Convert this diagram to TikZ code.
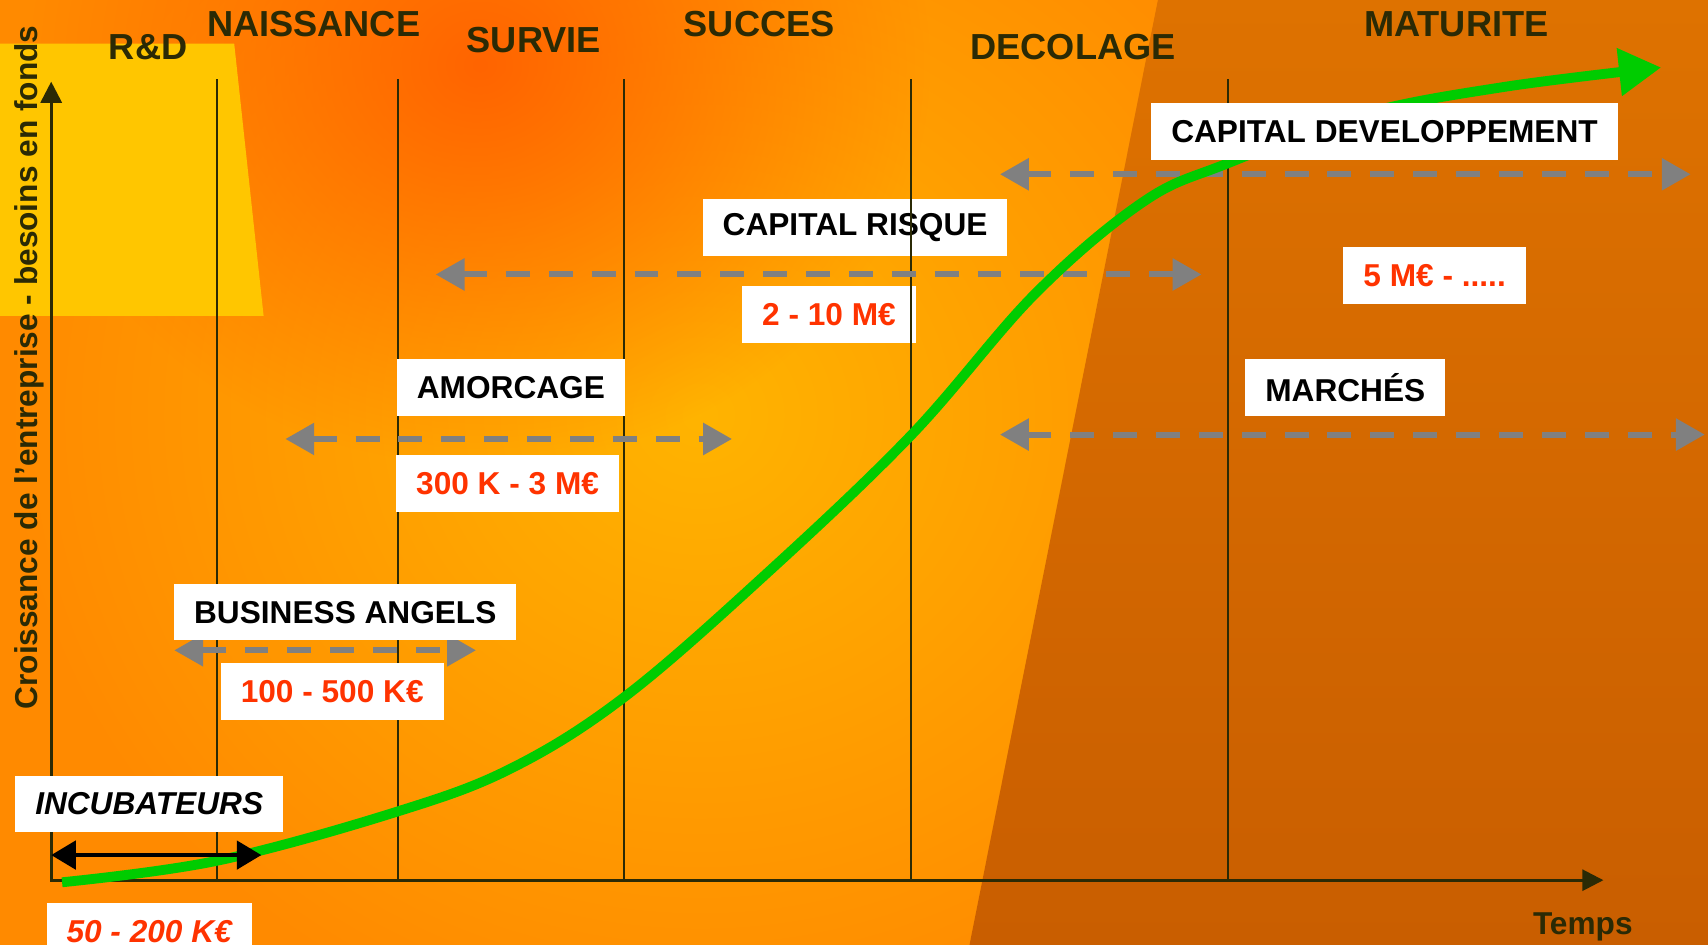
\documentclass[tikz,border=0pt]{standalone}
\usepackage{fontspec}
\setmainfont{Liberation Sans}
\usepackage{tikz}
\usetikzlibrary{arrows.meta,fadings}
\usepackage{xcolor}
\definecolor{bgbase}{HTML}{FF8A00}
\definecolor{bgglow}{HTML}{FFB400}
\definecolor{bgred}{HTML}{FF6400}
\definecolor{bgyellow}{HTML}{FFC600}
\definecolor{bgdark}{HTML}{DE7200}
\definecolor{bgdeep}{HTML}{C95E00}
\definecolor{axiscol}{HTML}{2B2A05}
\definecolor{amountred}{HTML}{FF3300}
\definecolor{curvegreen}{HTML}{00CC00}
\definecolor{rangegray}{HTML}{808080}
\tikzfading[name=glowfade, inner color=transparent!0, outer color=transparent!100]

\begin{document}
\begin{tikzpicture}[
    phase/.style={font=\fontsize{10.3}{12}\selectfont\bfseries, text=axiscol},
    box/.style={fill=white, inner xsep=0.2cm, inner ysep=0pt, minimum height=0.566cm,
      font=\fontsize{9}{11}\selectfont\bfseries},
    amount/.style={box, text=amountred},
    fundrange/.style={draw=rangegray, line width=1.7pt, dash pattern=on 6.8pt off 5.4pt,
      {Triangle[length=8.2pt,width=8.8pt]}-{Triangle[length=8.2pt,width=8.8pt]}},
  ]
    \useasboundingbox (0,0) rectangle (17.08,9.45);
    % background
    \fill[bgbase] (0,0) rectangle (17.08,9.45);
    \fill[bgglow, path fading=glowfade] (7.0,5.3) ellipse (7 and 6.5);
    \fill[bgred, path fading=glowfade] (4.8,8.8) ellipse (4.5 and 4);
    \fill[bgyellow] (0,9.014) -- (2.342,9.014) -- (2.636,6.291) -- (0,6.291) -- cycle;
    \shade[top color=bgdark, bottom color=bgdeep] (11.579,9.45) -- (17.08,9.45) -- (17.08,0) -- (9.695,0) -- cycle;

    % boxes lying under the phase lines
    \node[box] (caprisque) at (8.551,7.173) {CAPITAL RISQUE};
    \node[amount] (crAmt) at (8.290,6.302) {2 - 10 M€};

    % phase lines and axes
    \foreach \x in {2.168,3.976,6.242,9.107,12.276}
        \draw[axiscol, line width=0.6pt] (\x,0.648) -- (\x,8.655);
    \coordinate (ytop) at (0.512,8.633);
    \coordinate (xend) at (16.034,0.648);
    \draw[axiscol, line width=0.8pt, {Triangle[length=6pt,width=6pt]}-{Triangle[length=6pt,width=6pt]}] (ytop) |- (xend);

    % financing ranges
    \coordinate (cdL) at (10.000,7.707);
    \coordinate (cdR) at (16.906,7.707);
    \coordinate (crL) at (4.357,6.705);
    \coordinate (crR) at (12.015,6.705);
    \coordinate (amL) at (2.854,5.060);
    \coordinate (amR) at (7.320,5.060);
    \coordinate (maL) at (10.000,5.104);
    \coordinate (maR) at (17.048,5.104);
    \coordinate (baL) at (1.743,2.947);
    \coordinate (baR) at (4.760,2.947);
    \draw[fundrange] (cdL) -- (cdR);
    \draw[fundrange] (crL) -- (crR);
    \draw[fundrange] (amL) -- (amR);
    \draw[fundrange] (maL) -- (maR);
    \draw[fundrange] (baL) -- (baR);

    % growth curve
    \draw[curvegreen, line width=2.8pt, -{Triangle[length=12pt,width=13pt]}]
        plot[smooth, tension=0.6] coordinates {(0.621,0.627) (2.179,0.844) (3.976,1.335) (5.120,1.770)
        (6.242,2.478) (7.625,3.677) (9.107,5.093) (10.348,6.509) (11.438,7.435) (12.276,7.816)
        (13.616,8.306) (15.032,8.579) (16.612,8.775)};

    \coordinate (incL) at (0.512,0.899);
    \coordinate (incR) at (2.614,0.899);
    \draw[black, line width=1.3pt, {Triangle[length=7pt,width=8pt]}-{Triangle[length=7pt,width=8pt]}] (incL) -- (incR);

    % labels
    \node[box] (capdev) at (13.845,8.132) {CAPITAL DEVELOPPEMENT};
    \node[amount] (cdAmt) at (14.346,6.694) {5 M€ - .....};
    \node[box] (amorcage) at (5.109,5.572) {AMORCAGE};
    \node[amount] (amAmt) at (5.076,4.613) {300 K - 3 M€};
    \node[box] (marches) at (13.453,5.572) {MARCHÉS};
    \node[box] (angels) at (3.453,3.328) {BUSINESS ANGELS};
    \node[amount] (baAmt) at (3.322,2.533) {100 - 500 K€};
    \node[box, font=\fontsize{9}{11}\selectfont\bfseries\itshape] (incub) at (1.492,1.411) {INCUBATEURS};
    \node[amount, font=\fontsize{9}{11}\selectfont\bfseries\itshape] (incAmt) at (1.492,0.137) {50 - 200 K€};

    \foreach \x/\y/\t [count=\i] in {1.481/8.982/{R\&D}, 3.137/9.210/NAISSANCE, 5.338/9.047/SURVIE,
        7.592/9.210/SUCCES, 10.730/8.982/DECOLAGE, 14.564/9.210/MATURITE}
        \node[phase] (phase\i) at (\x,\y) {\t};
    \node[rotate=90, font=\fontsize{9}{11}\selectfont\bfseries, text=axiscol] (ylabel) at (0.294,5.774)
        {Croissance de l’entreprise - besoins en fonds};
    \node[font=\fontsize{9}{11}\selectfont\bfseries, text=axiscol] (temps) at (15.828,0.180) {Temps};
\end{tikzpicture}
\end{document}
